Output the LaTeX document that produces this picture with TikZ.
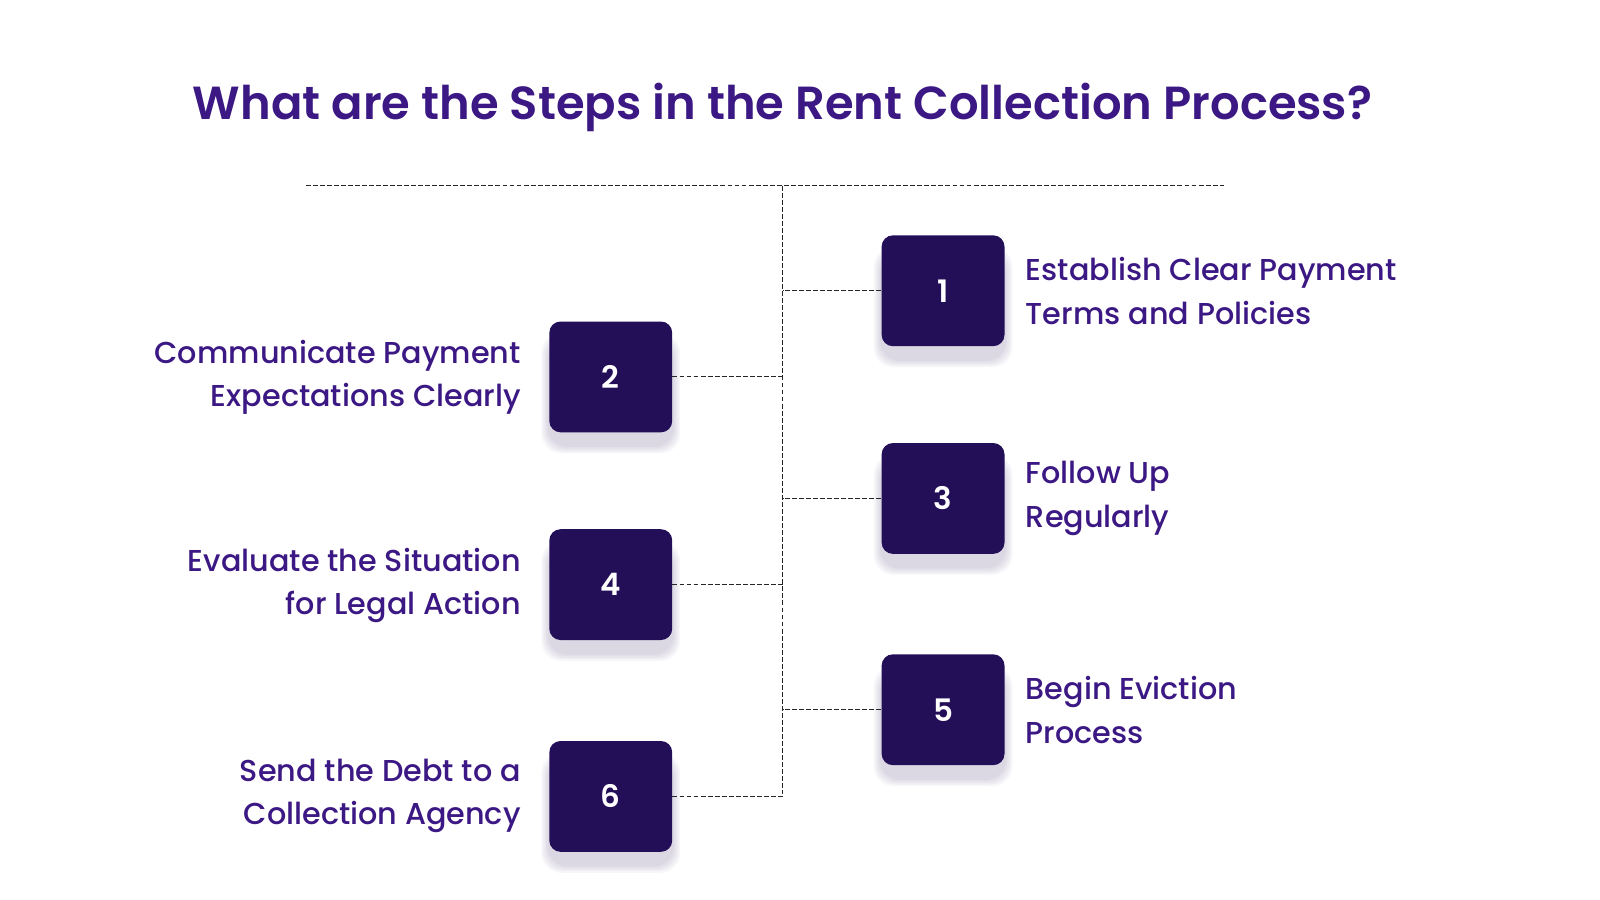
\documentclass[tikz,border=0pt]{standalone}
\usepackage{fontspec}
\setmainfont{Poppins}
\newfontfamily\semib{Poppins SemiBold}
\newfontfamily\medf{Poppins Medium}
\definecolor{boxc}{HTML}{230E58}
\definecolor{txtc}{HTML}{3B1883}
\begin{document}
\begin{tikzpicture}[x=0.025641cm,y=-0.025641cm,
  stepbox/.style={fill=boxc,rounded corners=0.28cm,minimum width=3.07cm,minimum height=2.77cm,text=white,font=\fontsize{22}{26}\selectfont\semib},
  shad/.style={fill=boxc,rounded corners=0.5cm,minimum width=3.3cm,minimum height=2.9cm,opacity=0.035,draw=none},
  lbl/.style={text=txtc,font=\fontsize{21.5}{31}\selectfont\medf,align=left,inner sep=0},
  conn/.style={dash pattern=on 3.5pt off 1.5pt,line width=0.8pt,draw=black!85}]
\useasboundingbox (0,0) rectangle (1560,877.5);
\node[text=txtc,font=\fontsize{33}{40}\selectfont\semib] (title) at (763,105) {What are the Steps in the Rent Collection Process?};
\coordinate (tl) at (298,181); \coordinate (tr) at (1193,181);
\coordinate (top) at (763,181); \coordinate (bot) at (763,774);
\draw[conn] (tl) -- (tr);
\draw[conn] (top) -- (bot);
\foreach \x/\y in {919.5/283.5,595.5/367.5,919.5/486,595.5/570,919.5/692,595.5/776.5}{
  \foreach \k in {4,8,12,16,20}{\node[shad,minimum width=3.07cm+\k*0.02cm,minimum height=2.6cm+\k*0.02cm] at (\x,\y+16) {};}}
\node[stepbox] (b1) at (919.5,283.5) {1};
\node[stepbox] (b2) at (595.5,367.5) {2};
\node[stepbox] (b3) at (919.5,486) {3};
\node[stepbox] (b4) at (595.5,570) {4};
\node[stepbox] (b5) at (919.5,692) {5};
\node[stepbox] (b6) at (595.5,776.5) {6};
\foreach \b in {b1,b2,b3,b4,b5,b6}{\draw[conn] (\b) -- (763,0 |- \b);}
\node[lbl,anchor=west] (t1) at (1000,284) {Establish Clear Payment\\Terms and Policies};
\node[lbl,anchor=west] (t3) at (1000,486) {Follow Up\\Regularly};
\node[lbl,anchor=west] (t5) at (1000,692) {Begin Eviction\\Process};
\node[lbl,anchor=east,align=right] (t2) at (508,368) {Communicate Payment\\Expectations Clearly};
\node[lbl,anchor=east,align=right] (t4) at (508,571) {Evaluate the Situation\\for Legal Action};
\node[lbl,anchor=east,align=right] (t6) at (508,776) {Send the Debt to a\\Collection Agency};
\end{tikzpicture}
\end{document}
